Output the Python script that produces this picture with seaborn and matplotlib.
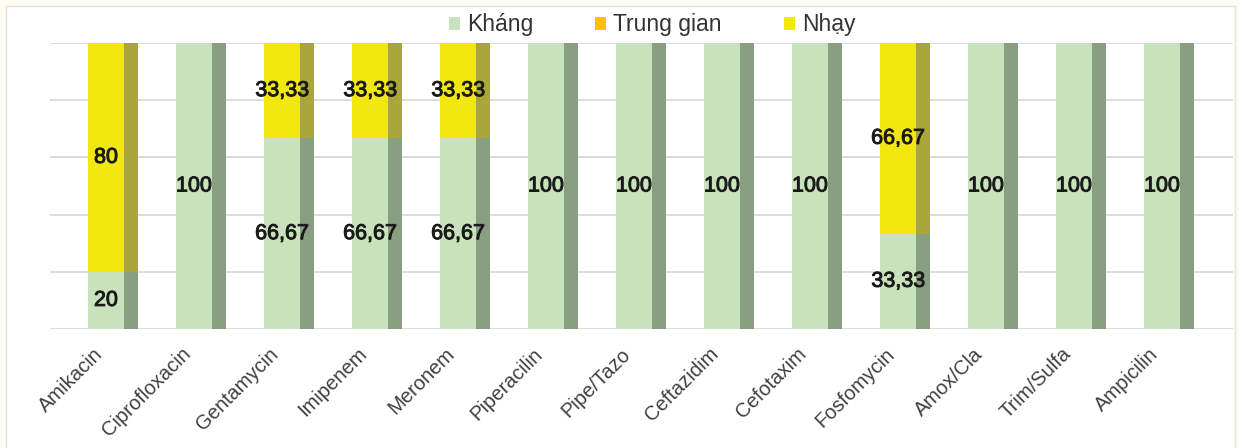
import numpy as np
import pandas as pd
import seaborn as sns
import matplotlib
matplotlib.use("Agg")
import matplotlib.pyplot as plt
from matplotlib.patches import Patch, Rectangle
from matplotlib.transforms import ScaledTranslation
import matplotlib.patheffects as pe

categories = ["Amikacin", "Ciprofloxacin", "Gentamycin", "Imipenem", "Meronem",
              "Piperacilin", "Pipe/Tazo", "Ceftazidim", "Cefotaxim", "Fosfomycin",
              "Amox/Cla", "Trim/Sulfa", "Ampicilin"]
khang = [20, 100, 66.67, 66.67, 66.67, 100, 100, 100, 100, 33.33, 100, 100, 100]
trung_gian = [0, 0, 0, 0, 0, 0, 0, 0, 0, 0, 0, 0, 0]
nhay = [80, 0, 33.33, 33.33, 33.33, 0, 0, 0, 0, 66.67, 0, 0, 0]
series_names = ["Kháng", "Trung gian", "Nhạy"]

c_front = ["#c8e2bd", "#ffc000", "#f3e80e"]
c_side = ["#8a9e82", "#b08a10", "#a9a739"]

sns.set_theme(style="white")
plt.rcParams["font.family"] = ["Liberation Sans", "DejaVu Sans"]

df = pd.DataFrame({"cat": categories, "k": khang, "t": trung_gian, "n": nhay})
df["kt"] = df["k"] + df["t"]
df["ktn"] = df["kt"] + df["n"]

W, H = 1239, 448
fig = plt.figure(figsize=(W / 100, H / 100), dpi=100)
fig.patch.set_facecolor("#fdfcf2")
fig.patches.append(Rectangle((6 / W, -0.01), (1235 - 6) / W, (H - 6) / H + 0.01,
                             transform=fig.transFigure, facecolor="white",
                             edgecolor="#e4e4dc", linewidth=1.0, zorder=-5))

left, right, top, bottom = 50, 1233, 43, 329
ax = fig.add_axes([left / W, 1 - bottom / H, (right - left) / W, (bottom - top) / H])
ax.set_zorder(2)
ax.set_facecolor("none")

front_w = 0.409
side_w = 0.159
side_off = front_w / 2 + side_w / 2

# front faces (stacked: draw cumulative totals back to front)
for col, c in zip(["ktn", "kt", "k"], [c_front[2], c_front[1], c_front[0]]):
    sns.barplot(data=df, x="cat", y=col, color=c, width=front_w, ax=ax,
                saturation=1, linewidth=0, zorder=3, errorbar=None)

# side faces
idx = np.arange(len(categories))
for col, c in zip(["ktn", "kt", "k"], [c_side[2], c_side[1], c_side[0]]):
    ax.bar(idx + side_off, df[col], width=side_w, color=c, linewidth=0, zorder=3)

ax.set_xlim(-0.6365, 12.8065)
ax.set_ylim(0, 100)
ax.set_yticks([0, 20, 40, 60, 80, 100])
ax.set_yticklabels([])
ax.yaxis.grid(True, color="#d9d9d9", linewidth=1.3, zorder=0)
ax.set_axisbelow(True)
for s in ax.spines.values():
    s.set_visible(False)
ax.tick_params(axis="y", length=0)
ax.tick_params(axis="x", length=0, pad=6)
ax.set_xlabel("")
ax.set_ylabel("")
ax.set_xticks(idx)
ax.set_xticklabels(categories, rotation=45, ha="right", rotation_mode="anchor",
                   fontsize=14.5, color="#404040")
shift = ScaledTranslation(-13 / 100, -7 / 100, fig.dpi_scale_trans)
for lab in ax.get_xticklabels():
    lab.set_transform(lab.get_transform() + shift)


def fmt(v):
    s = f"{v:.2f}".rstrip("0").rstrip(".")
    return s.replace(".", ",")


fx = [pe.withStroke(linewidth=0.7, foreground="#1a1a1a")]
for i in idx:
    k, t, n = khang[i], trung_gian[i], nhay[i]
    if k > 0:
        ax.text(i, k / 2, fmt(k), ha="center", va="center", fontsize=15.5,
                color="#1a1a1a", zorder=5, path_effects=fx)
    if n > 0:
        ax.text(i, k + t + n / 2, fmt(n), ha="center", va="center", fontsize=15.5,
                color="#1a1a1a", zorder=5, path_effects=fx)

handles = [Patch(facecolor=c, edgecolor="none") for c in c_front]
fig.legend(handles, series_names, loc="center", bbox_to_anchor=(652 / W, 1 - 25 / H),
           ncol=3, frameon=False, fontsize=16.5, handlelength=0.5, handleheight=0.5,
           handletextpad=0.3, columnspacing=2.7, labelcolor="#333333")

fig.savefig("out.png", dpi=100, facecolor=fig.get_facecolor())
